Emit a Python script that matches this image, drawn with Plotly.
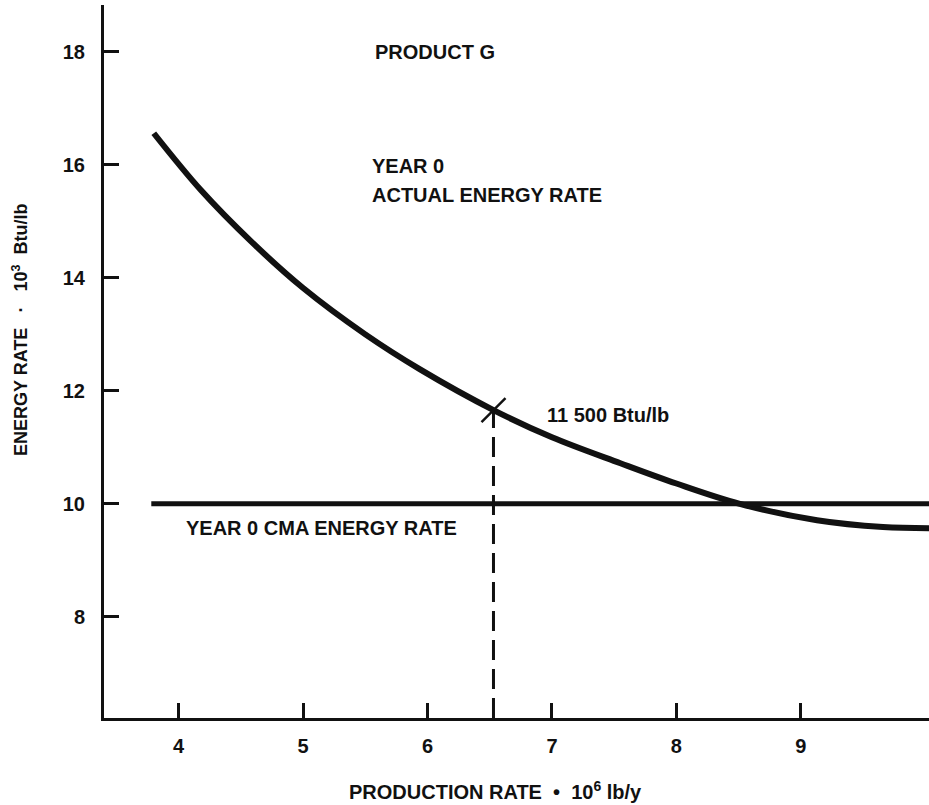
import plotly.graph_objects as go

# Curve: Year 0 actual energy rate (10^3 Btu/lb) vs production rate (10^6 lb/y)
curve_x = [3.80, 4.18, 4.58, 5.0, 5.5, 5.94, 6.53, 7.0, 7.55, 8.0, 8.51, 9.13, 9.66, 10.03]
curve_y = [16.56, 15.55, 14.65, 13.82, 13.00, 12.38, 11.66, 11.18, 10.72, 10.36, 10.00, 9.71, 9.59, 9.57]

# Year 0 CMA energy rate
cma_x = [3.78, 10.03]
cma_y = [10.0, 10.0]

# Operating point
op_x = 6.53
op_y = 11.66
x_min, x_max = 3.40, 10.03
y_min, y_max = 6.21, 18.83

x_ticks = [4, 5, 6, 7, 8, 9]
y_ticks = [8, 10, 12, 14, 16, 18]

FONT = "Liberation Sans"
BLACK = "#111111"
NB = "\u00a0"

fig = go.Figure()
fig.add_trace(go.Scatter(x=curve_x, y=curve_y, mode="lines",
                         line=dict(color=BLACK, width=6, shape="spline", smoothing=1.0),
                         showlegend=False, hoverinfo="skip"))
fig.add_trace(go.Scatter(x=cma_x, y=cma_y, mode="lines",
                         line=dict(color=BLACK, width=5),
                         showlegend=False, hoverinfo="skip"))
fig.add_trace(go.Scatter(x=[op_x, op_x], y=[y_min, op_y], mode="lines",
                         line=dict(color=BLACK, width=3, dash="20px,9px"),
                         showlegend=False, hoverinfo="skip"))
fig.add_trace(go.Scatter(x=[op_x], y=[op_y], mode="markers",
                         marker=dict(symbol="line-ne", size=24,
                                     line=dict(color=BLACK, width=2.5)),
                         showlegend=False, hoverinfo="skip"))

tf = dict(family=FONT, size=20, color=BLACK, weight="bold")
tf18 = dict(family=FONT, size=18, color=BLACK, weight="bold")

fig.add_annotation(x=5.565, y=18.0, text="PRODUCT G", showarrow=False,
                   xanchor="left", yanchor="middle", font=tf)
fig.add_annotation(x=5.54, y=15.98, text="YEAR 0", showarrow=False,
                   xanchor="left", yanchor="middle", font=tf)
fig.add_annotation(x=5.54, y=15.47, text="ACTUAL ENERGY RATE", showarrow=False,
                   xanchor="left", yanchor="middle", font=tf)
fig.add_annotation(x=6.945, y=11.58, text="11 500 Btu/lb", showarrow=False,
                   xanchor="left", yanchor="middle", font=tf)
fig.add_annotation(x=4.04, y=9.58, text="YEAR 0 CMA ENERGY RATE", showarrow=False,
                   xanchor="left", yanchor="middle", font=tf)

# Axis titles
fig.add_annotation(xref="paper", yref="paper", x=0.474, y=-0.101,
                   text="PRODUCTION RATE" + NB * 2 + "•" + NB * 2 + "10<sup>6</sup>" + NB + "lb/y",
                   showarrow=False, xanchor="center", yanchor="middle", font=tf)
fig.add_annotation(xref="paper", yref="paper", x=-0.102, y=0.544,
                   text="ENERGY RATE" + NB * 3 + "·" + NB * 3 + "10<sup>3</sup>" + NB * 2 + "Btu/lb",
                   showarrow=False, textangle=-90, xanchor="center", yanchor="middle", font=tf18)

axis_common = dict(showgrid=False, zeroline=False, showline=True,
                   linecolor=BLACK, linewidth=3, ticks="inside",
                   ticklen=15, tickwidth=2.5, tickcolor=BLACK, tickfont=tf)

fig.update_layout(
    width=929, height=805, autosize=False,
    margin=dict(l=104, r=0, t=5, b=87),
    paper_bgcolor="white", plot_bgcolor="white",
    font=dict(family=FONT, color=BLACK),
    xaxis=dict(range=[x_min, x_max], tickvals=x_ticks, ticktext=[str(v) for v in x_ticks],
               ticklabelstandoff=8, **axis_common),
    yaxis=dict(range=[y_min, y_max], tickvals=y_ticks, ticktext=[str(v) for v in y_ticks],
               ticklabelstandoff=12, **axis_common),
)

fig.write_html("out.html", config={"displayModeBar": False},
               post_script="document.body.style.margin='0';document.body.style.overflow='hidden';")
